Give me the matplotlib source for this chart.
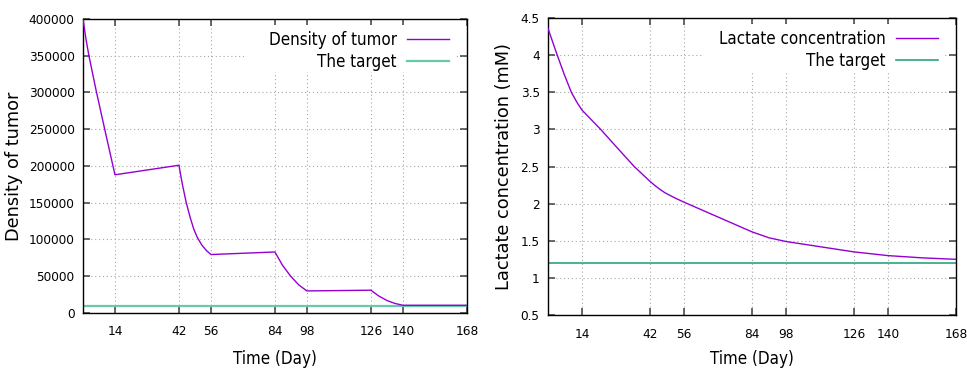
import matplotlib
matplotlib.use("Agg")
import matplotlib.pyplot as plt
from matplotlib.patches import Rectangle

# tumor density (left panel)
tumor_days = [0, 1.3, 2.6, 5.8, 9.8, 14,
              42, 43.5, 45.2, 47, 48.5, 50, 52, 54, 56,
              84, 87.3, 90.9, 94.5, 98,
              126, 129.5, 133, 136.5, 140, 168]
tumor_density = [400000, 373000, 350000, 302000, 246000, 188000,
                 201000, 175000, 150000, 129000, 114000, 103000, 92500, 85000, 79500,
                 83000, 65000, 50000, 38000, 30000,
                 31000, 23000, 17000, 13000, 10500, 10500]
tumor_target = 10000

# lactate concentration (right panel)
lactate_days = [0, 3.8, 6.7, 9.6, 12, 14, 21.7, 28, 35.5, 42, 44, 46, 48, 50, 53, 56,
                70, 84, 91, 98, 112, 126, 140, 154, 168]
lactate_conc = [4.36, 4.0, 3.74, 3.5, 3.36, 3.26, 3.0, 2.77, 2.5, 2.3, 2.245, 2.195, 2.15,
                2.115, 2.065, 2.02, 1.82, 1.62, 1.54, 1.49, 1.42, 1.35, 1.30, 1.27, 1.25]
lactate_target = 1.2

day_ticks = [14, 42, 56, 84, 98, 126, 140, 168]
tumor_ticks = [0, 50000, 100000, 150000, 200000, 250000, 300000, 350000, 400000]
lactate_ticks = [0.5, 1, 1.5, 2, 2.5, 3, 3.5, 4, 4.5]
lactate_tick_labels = ["0.5", "1", "1.5", "2", "2.5", "3", "3.5", "4", "4.5"]

plt.rcParams["font.family"] = "DejaVu Sans"

fig = plt.figure(figsize=(9.67, 3.68), dpi=100)
ax1 = fig.add_axes([0.0858, 0.1495, 0.397, 0.799])
ax2 = fig.add_axes([0.5667, 0.144, 0.4219, 0.807])

purple = "#9400d3"


def style_axes(ax, mask_left):
    ax.set_axisbelow(True)
    ax.grid(True, color="#a8a8a8", linestyle=(0, (1, 2.5)), linewidth=0.8)
    ax.tick_params(direction="in", top=True, right=True, length=5, width=1.1,
                   color="#404040", labelsize=8.7, pad=6)
    ax.tick_params(axis="x", pad=9)
    for s in ax.spines.values():
        s.set_linewidth(1.0)
        s.set_color("black")
    # white box behind the key, hides grid as gnuplot does
    ax.add_patch(Rectangle((mask_left, 0.82), 0.97 - mask_left, 0.16,
                           transform=ax.transAxes, facecolor="white",
                           edgecolor="none", zorder=1))


def finish_labels(ax, xlabel, ylabel, xlab_y, ylab_x):
    ax.set_xlabel(xlabel, fontsize=12.2, fontstretch="condensed")
    ax.set_ylabel(ylabel, fontsize=12.8)
    ax.xaxis.set_label_coords(0.5, xlab_y)
    ax.yaxis.set_label_coords(ylab_x, 0.5)


def add_key(ax):
    ax.legend(loc="upper right", bbox_to_anchor=(0.985, 1.0), frameon=False,
              markerfirst=False, prop={"size": 12.2, "stretch": "condensed"},
              handlelength=2.5, handletextpad=0.6, labelspacing=0.25,
              borderaxespad=0.3)


# left panel
style_axes(ax1, 0.427)
ax1.plot(tumor_days, tumor_density, color=purple, linewidth=1.0,
         label="Density of tumor", zorder=3)
ax1.plot([0, 168], [tumor_target, tumor_target], color="#66c9a9",
         linewidth=1.6, label="The target", zorder=2)
ax1.set_xlim(0, 168)
ax1.set_ylim(0, 400000)
ax1.set_xticks(day_ticks)
ax1.set_yticks(tumor_ticks)
finish_labels(ax1, "Time (Day)", "Density of tumor", -0.125, -0.155)
add_key(ax1)

# right panel
style_axes(ax2, 0.377)
ax2.plot(lactate_days, lactate_conc, color=purple, linewidth=1.0,
         label="Lactate concentration", zorder=3)
ax2.plot([0, 168], [lactate_target, lactate_target], color="#2ea37f",
         linewidth=1.2, label="The target", zorder=2)
ax2.set_xlim(0, 168)
ax2.set_ylim(0.5, 4.5)
ax2.set_xticks(day_ticks)
ax2.set_yticks(lactate_ticks, lactate_tick_labels)
finish_labels(ax2, "Time (Day)", "Lactate concentration (mM)", -0.118, -0.085)
add_key(ax2)

fig.savefig("out.png", dpi=100)
